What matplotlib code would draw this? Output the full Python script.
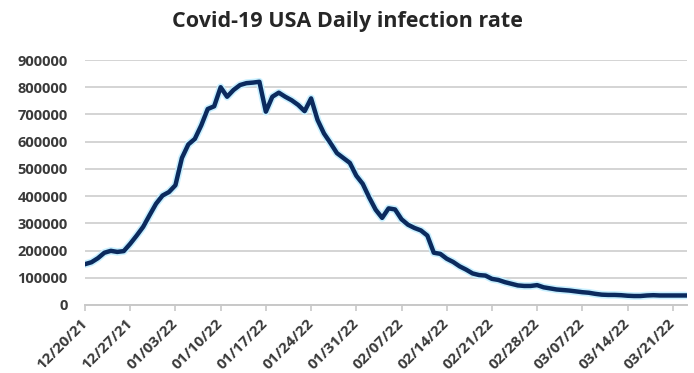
import numpy as np
import pandas as pd
import matplotlib
matplotlib.use("Agg")
import matplotlib.pyplot as plt

plt.rcParams['font.family'] = ['Open Sans', 'DejaVu Sans']

# daily infections, 12/20/21 .. 03/23/22
start_date = '2021-12-20'
cases = [150000, 157000, 172000, 192000, 199000, 195000, 198000, 225000, 255000, 287000,
         330000, 372000, 402000, 415000, 440000, 540000, 590000, 610000, 660000, 720000,
         730000, 800000, 765000, 790000, 808000, 815000, 817000, 820000, 710000, 765000,
         780000, 765000, 752000, 735000, 712000, 759000, 680000, 630000, 595000, 558000,
         540000, 522000, 475000, 445000, 395000, 350000, 320000, 355000, 351000, 315000,
         295000, 283000, 274000, 255000, 192000, 188000, 170000, 158000, 142000, 130000,
         116000, 110000, 108000, 96000, 92000, 84000, 78000, 72000, 70000, 70000,
         73000, 65000, 61000, 57000, 55000, 53000, 50000, 47000, 45000, 41000,
         38000, 37000, 37000, 36000, 34000, 33000, 33000, 35000, 36000, 35000,
         35000, 35000, 35000, 35000]

dates = pd.date_range(start_date, periods=len(cases), freq='D')
days = np.arange(len(cases))
tick_days = days[::7]
tick_labels = [d.strftime('%m/%d/%y') for d in dates[::7]]

fig = plt.figure(figsize=(6.94, 3.73), dpi=100)
ax = fig.add_axes([85/694, 1 - 305/373, (687 - 85)/694, (305 - 60)/373])

ax.plot(days, cases, color='#c8f0ff', lw=5.5, solid_capstyle='round', zorder=2)
ax.plot(days, cases, color='#0b2a5e', lw=3.2, solid_joinstyle='round', zorder=3)

ax.set_xlim(0, 93.2)
ax.set_ylim(0, 900000)
ax.set_yticks(np.arange(0, 900001, 100000))
ax.set_yticklabels([str(v) for v in range(0, 900001, 100000)])
ax.set_xticks(tick_days)
ax.set_xticklabels(tick_labels, rotation=45, ha='right', va='center', rotation_mode='anchor')

ax.grid(axis='y', color='#d4d4d4', lw=1.4)
ax.set_axisbelow(True)
for s in ['top', 'right', 'left']:
    ax.spines[s].set_visible(False)
ax.spines['bottom'].set_color('#c8c8c8')
ax.spines['bottom'].set_linewidth(1.4)
ax.tick_params(axis='y', length=0, pad=12.5, labelsize=10.5, labelcolor='#3a3a3a')
ax.tick_params(axis='x', length=4, width=1.2, color='#c8c8c8', pad=8,
               labelsize=11, labelcolor='#3a3a3a')
for lab in ax.get_xticklabels() + ax.get_yticklabels():
    lab.set_fontweight('bold')

fig.text(0.5, 1 - 22/373, 'Covid-19 USA Daily infection rate', ha='center', va='center',
         fontsize=15.5, fontweight='bold', color='#262626')

fig.savefig('out.png', dpi=100)
